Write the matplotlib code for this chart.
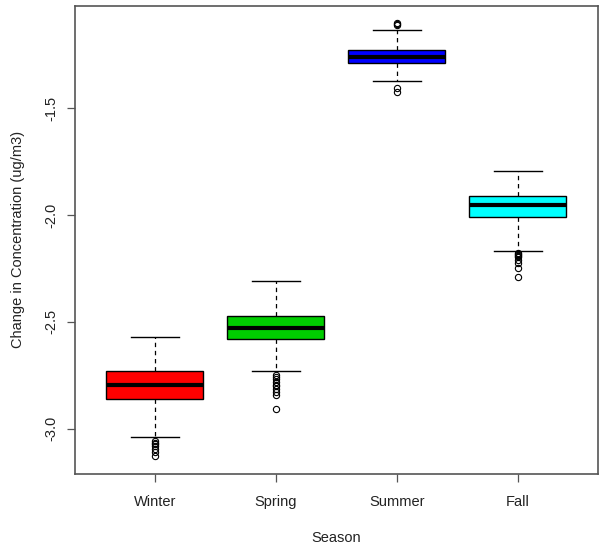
import matplotlib
matplotlib.use('Agg')
import matplotlib.pyplot as plt

plt.rcParams['font.family'] = ['Liberation Sans', 'DejaVu Sans']

seasons = ['Winter', 'Spring', 'Summer', 'Fall']
colors = ['#FF0000', '#00CD00', '#0000FF', '#00FFFF']

# five-number summaries
whislo = [-3.037, -2.732, -1.375, -2.167]
q1 = [-2.860, -2.578, -1.291, -2.012]
med = [-2.794, -2.529, -1.260, -1.955]
q3 = [-2.732, -2.473, -1.230, -1.911]
whishi = [-2.569, -2.308, -1.137, -1.796]
fliers = [
    [-3.059, -3.065, -3.070, -3.082, -3.095, -3.110, -3.126],
    [-2.748, -2.756, -2.766, -2.779, -2.796, -2.802, -2.814, -2.830, -2.841, -2.908],
    [-1.104, -1.108, -1.112, -1.408, -1.424],
    [-2.176, -2.182, -2.187, -2.193, -2.198, -2.210, -2.223, -2.249, -2.290],
]

stats = []
for i, name in enumerate(seasons):
    stats.append({'label': name, 'whislo': whislo[i], 'q1': q1[i], 'med': med[i],
                  'q3': q3[i], 'whishi': whishi[i], 'fliers': fliers[i]})

fig = plt.figure(figsize=(6.04, 5.49), dpi=100)
ax = fig.add_axes([0.1242, 0.1372, 0.8654, 0.8519])

bp = ax.bxp(stats, positions=[1, 2, 3, 4], widths=0.8, patch_artist=True,
            showfliers=True,
            boxprops=dict(edgecolor='black', linewidth=1),
            medianprops=dict(color='black', linewidth=3, solid_capstyle='butt'),
            whiskerprops=dict(color='black', linewidth=0.9, linestyle=(0, (3.5, 3))),
            capprops=dict(color='black', linewidth=1),
            capwidths=0.4,
            flierprops=dict(marker='o', markerfacecolor='none', markeredgecolor='black',
                            markersize=4.5, markeredgewidth=0.8, linestyle='none'))
for patch, c in zip(bp['boxes'], colors):
    patch.set_facecolor(c)

ax.set_xlim(0.34, 4.66)
ax.set_ylim(-3.21, -1.023)
ax.set_yticks([-3.0, -2.5, -2.0, -1.5])
ax.set_yticklabels(['-3.0', '-2.5', '-2.0', '-1.5'], rotation=90, va='center')
ax.set_xticks([1, 2, 3, 4])
ax.set_xticklabels(seasons)
ax.tick_params(axis='both', labelsize=10.5, length=6, width=0.9, color='#555555',
               labelcolor='#222222')
ax.tick_params(axis='x', pad=9)
ax.tick_params(axis='y', pad=6)
for sp in ax.spines.values():
    sp.set_color('#555555')
    sp.set_linewidth(1.2)

ax.set_xlabel('Season', fontsize=10.5, color='#222222', labelpad=16)
ax.set_ylabel('Change in Concentration (ug/m3)', fontsize=10.5, color='#222222', labelpad=14)

fig.savefig('out.png', dpi=100)
